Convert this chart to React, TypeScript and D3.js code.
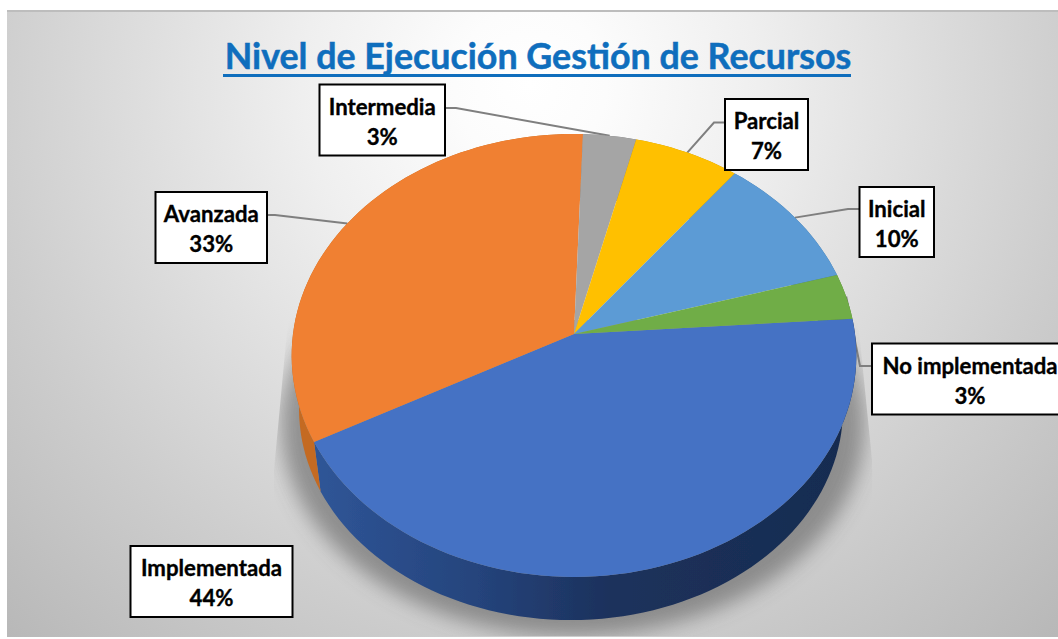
import React from "react";
import * as d3 from "d3";

const categories = ["Implementada", "Avanzada", "Intermedia", "Parcial", "Inicial", "No implementada"];
const counts = [13, 10, 1, 2, 3, 1];
const percentLabels = ["44%", "33%", "3%", "7%", "10%", "3%"];
const topColors = ["#4472c4", "#f08030", "#a5a5a5", "#ffc000", "#5b9bd5", "#70ad47"];
const sideFills = ["url(#sideBlue)", "#c46a22", "#7c7c7c", "#bf9000", "#44749f", "#548235"];
const title = "Nivel de Ejecución Gestión de Recursos";

// label box layout [left, top, right, bottom], elbow of the leader line
const boxes = [
  [130.5, 546, 292.5, 617],
  [155.5, 192, 267, 263],
  [319.5, 84.5, 445, 155.5],
  [725, 99, 808, 170],
  [859.5, 187, 934, 257],
  [872, 343.5, 1068, 414.5],
];
const elbows: (number[] | null)[] = [null, [275, 215], [456, 108], [714, 122.5], [848, 209], [860, 366]];

const deg = Math.PI / 180;
const pieAngles = d3.pie<number>().sort(null).startAngle(86 * deg).endAngle(446 * deg)(counts);

const K = 0.097;
const project = (a: number, cx: number, cy: number, R: number, S: number): [number, number] => {
  const u = Math.sin(a);
  const v = -Math.cos(a);
  const w = 1 - K * v;
  return [cx + (R * u) / w, cy + (S * v) / w];
};
const topRim = (a: number) => project(a, 574, 334, 281, 219.4);
const bottomRim = (a: number) => project(a, 571, 388.6, 270.7, 209);
const line = d3.line();
const arcSamples = (a0: number, a1: number) => {
  const n = Math.max(6, Math.ceil((a1 - a0) / (2 * deg)));
  return d3.range(n + 1).map((i) => a0 + ((a1 - a0) * i) / n);
};

export default function App() {
  return (
    <svg
      width={1058}
      height={639}
      viewBox="0 0 1058 639"
      style={{ position: "absolute", left: 0, top: 0, display: "block", background: "#fff" }}
    >
      <defs>
        <radialGradient id="bg" gradientUnits="userSpaceOnUse" cx={530} cy={85} r={760}>
          <stop offset="0" stopColor="#ffffff" />
          <stop offset="0.1" stopColor="#fcfcfc" />
          <stop offset="0.3" stopColor="#efefef" />
          <stop offset="0.57" stopColor="#d9d9d9" />
          <stop offset="0.72" stopColor="#cdcdcd" />
          <stop offset="1" stopColor="#b8b8b8" />
        </radialGradient>
        <linearGradient id="sideBlue" gradientUnits="userSpaceOnUse" x1={317} y1={0} x2={850} y2={0}>
          <stop offset="0" stopColor="#2f5597" />
          <stop offset="0.3" stopColor="#25447c" />
          <stop offset="0.55" stopColor="#1c315c" />
          <stop offset="1" stopColor="#172c50" />
        </linearGradient>
        <filter id="soft" x="-20%" y="-20%" width="140%" height="140%">
          <feGaussianBlur stdDeviation="10" />
        </filter>
        <filter id="tiny" x="-5%" y="-5%" width="110%" height="110%">
          <feGaussianBlur stdDeviation="0.45" />
        </filter>
        <clipPath id="shadowClip">
          <polygon points="288,320 274,470 274,636 874,636 872,460 858,320" />
        </clipPath>
      </defs>

      <rect x={7} y={10} width={1051} height={627} fill="url(#bg)" />
      <rect x={7} y={10} width={1051} height={2} fill="#bdbdbd" />

      <g clipPath="url(#shadowClip)">
        <ellipse cx={573} cy={424} rx={292} ry={212} fill="#4a4a4a" opacity={0.5} filter="url(#soft)" />
      </g>

      {/* leader lines, behind the pie */}
      <g fill="none" stroke="#7f7f7f" strokeWidth={2}>
        {pieAngles.map((d, i) => {
          const e = elbows[i];
          if (!e) return null;
          const mid = (d.startAngle + d.endAngle) / 2;
          const b = boxes[i];
          const side = b[0] > e[0] ? b[0] : b[2];
          return (
            <polyline
              key={categories[i]}
              points={[topRim(mid), e, [side, e[1]]].map((p) => p.join(",")).join(" ")}
            />
          );
        })}
      </g>

      {/* pie wall */}
      <g filter="url(#tiny)">
        {pieAngles.map((d, i) => {
          const as = arcSamples(d.startAngle, d.endAngle);
          const pts = [...as.map(topRim), ...as.slice().reverse().map(bottomRim)];
          return <path key={i} d={(line(pts) ?? "") + "Z"} fill={sideFills[i]} />;
        })}
        {/* pie top */}
        {pieAngles.map((d, i) => {
          const pts = [[574, 334] as [number, number], ...arcSamples(d.startAngle, d.endAngle).map(topRim)];
          return <path key={i} d={(line(pts) ?? "") + "Z"} fill={topColors[i]} />;
        })}
      </g>

      <text
        x={538}
        y={69}
        textAnchor="middle"
        fontFamily="Lato, sans-serif"
        fontWeight={700}
        fontSize={35.8}
        fill="#0f6ebd"
        stroke="#0f6ebd"
        strokeWidth={0.5}
      >
        {title}
      </text>
      <rect x={223} y={74} width={628} height={3} fill="#0f6ebd" />

      {categories.map((c, i) => {
        const [x0, y0, x1, y1] = boxes[i];
        const cx = (x0 + x1) / 2;
        return (
          <g key={c}>
            <rect x={x0} y={y0} width={x1 - x0} height={y1 - y0} fill="#fff" stroke="#000" strokeWidth={2} />
            <text
              x={cx}
              textAnchor="middle"
              fontFamily="Lato, sans-serif"
              fontWeight={700}
              fontSize={22.2}
              fill="#000"
              stroke="#000"
              strokeWidth={0.35}
            >
              <tspan x={cx} y={y0 + 30}>{c}</tspan>
              <tspan x={cx} y={y0 + 60}>{percentLabels[i]}</tspan>
            </text>
          </g>
        );
      })}
    </svg>
  );
}
